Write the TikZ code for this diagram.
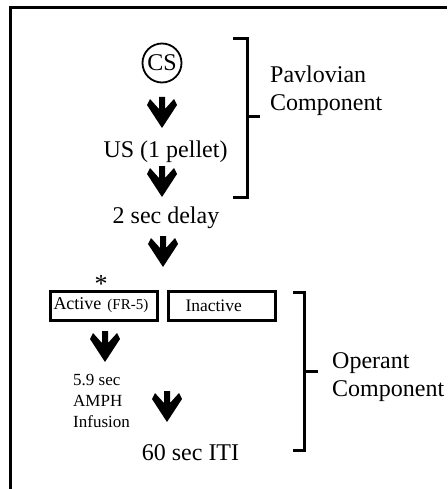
\documentclass[tikz,border=0pt]{standalone}
\usepackage{fontspec}
\setmainfont{Liberation Serif}
\begin{document}
\begin{tikzpicture}[x=1pt,y=-1pt,
  bigfont/.style={font=\fontsize{24}{28}\selectfont},
  midfont/.style={font=\fontsize{17}{21}\selectfont},
  txt/.style={inner sep=0pt},
  choice/.style={draw, line width=3pt, text width=107pt, align=left, minimum height=29pt, inner sep=0pt, font=\fontsize{18}{21}\selectfont},
  brack/.style={line width=3pt},
  frame/.style={line width=3pt},
  pics/downarrow/.style={code={
    \fill (0,0) -- (15,-23) -- (12,-29) -- (3,-19) -- (3,-31) -- (-3,-31)
      -- (-3,-19) -- (-12,-29) -- (-15,-23) -- cycle;}}
]
\useasboundingbox (0,0) rectangle (447,489);
% frame (right and bottom edges lie outside)
\draw[frame] (10.5,489) -- (10.5,7.5) -- (447,7.5);

% nodes
\node[draw, circle, line width=1.8pt, minimum size=39pt, inner sep=0pt, bigfont] (cs) at (162,63) {CS};
\node[txt, bigfont] (us) at (165.5,152) {US (1 pellet)};
\node[txt, bigfont] (delay) at (166,218) {2 sec delay};
\node[txt, bigfont, align=left, anchor=west] (pav) at (270,91) {Pavlovian\\Component};

\node[txt, font=\fontsize{26}{26}\selectfont, anchor=south] (star) at (101,288) {\raisebox{-5pt}[8pt][0pt]{*}};
\node[choice] (active) at (104,305.5) {\hspace*{3pt}Active {\fontsize{15}{16}\selectfont(FR-5)}};
\node[choice, font=\fontsize{17.5}{21}\selectfont] (inactive) at (222,305.5) {\hspace*{17pt}Inactive};
\node[txt, midfont, align=left, anchor=west] (amph) at (73,401) {5.9 sec\\AMPH\\Infusion};
\node[txt, bigfont] (iti) at (190.5,453) {60 sec ITI};
\node[txt, bigfont, align=left, anchor=west] (oper) at (332,377.5) {Operant\\Component};

% block arrows
\coordinate (a1) at (162,128);
\coordinate (a2) at (162,197);
\coordinate (a3) at (163,267);
\coordinate (a4) at (105,362);
\coordinate (a5) at (167,422);
\foreach \c in {a1,a2,a3,a4,a5} \pic at (\c) {downarrow};

% brackets
\coordinate (b1t) at (247,39);
\coordinate (b1b) at (247,197);
\coordinate (b1m) at (247,117);
\draw[brack] ([xshift=-14pt]b1t) -- (b1t) -- (b1b) -- ([xshift=-14pt]b1b);
\draw[brack] (b1m) -- ([xshift=13pt]b1m);

\coordinate (b2t) at (304,292);
\coordinate (b2b) at (304,450);
\coordinate (b2m) at (304,371);
\draw[brack] ([xshift=-11pt]b2t) -- (b2t) -- (b2b) -- ([xshift=-11pt]b2b);
\draw[brack] (b2m) -- ([xshift=14pt]b2m);
\end{tikzpicture}
\end{document}
